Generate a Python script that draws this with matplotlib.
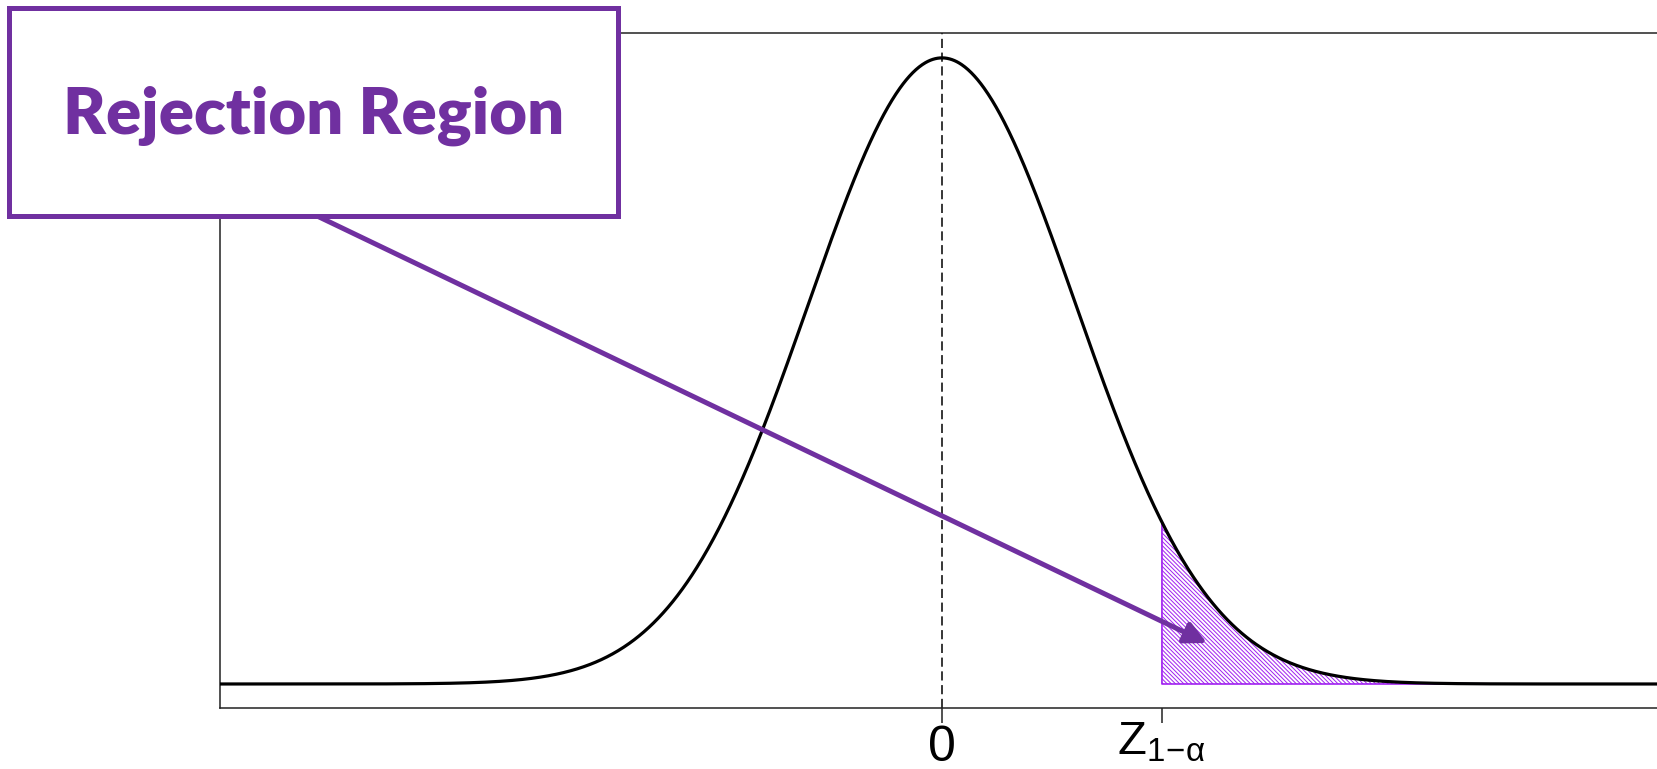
import numpy as np
import matplotlib
matplotlib.use("Agg")
import matplotlib.pyplot as plt
import matplotlib.transforms as mtransforms
from matplotlib.patches import Rectangle, FancyArrowPatch

# Standard normal with a one-sided upper rejection region
alpha = 0.05
z_crit = 1.645
x_range = (-6.0, 6.0)
shade_end = 4.75
tick_positions = [0.0, z_crit]
tick_labels = ["0", r"$\mathrm{Z}_{1\!-\!\alpha}$"]
callout_text = "Rejection Region"

PURPLE = "#7030A0"
HATCH = "#A020F0"

plt.rcParams["mathtext.fontset"] = "custom"
plt.rcParams["mathtext.rm"] = "Liberation Sans"
plt.rcParams["mathtext.it"] = "Liberation Sans"
plt.rcParams["mathtext.sf"] = "Liberation Sans"
plt.rcParams["hatch.linewidth"] = 0.7
plt.rcParams["hatch.color"] = HATCH

W, H = 1658, 769
fig = plt.figure(figsize=(W / 100, H / 100), dpi=100)

def fx(px):
    return px / W

def fy(py):
    return 1 - py / H

ax = fig.add_axes([fx(220), fy(708), fx(1664) - fx(220), fy(33) - fy(708)])

x = np.linspace(x_range[0], x_range[1], 2000)
pdf = np.exp(-x ** 2 / 2) / np.sqrt(2 * np.pi)

# hatched tail area
xs = np.linspace(z_crit, shade_end, 400)
ys = np.exp(-xs ** 2 / 2) / np.sqrt(2 * np.pi)
ax.fill_between(xs, 0, ys, facecolor="white", edgecolor=HATCH,
                hatch="\\" * 8, linewidth=1.2, zorder=2)

ax.plot(x, pdf, color="black", lw=2.3, zorder=3)
ax.axvline(0, color="black", lw=1.1, ls=(0, (6, 3)), zorder=1)

ax.set_xlim(-5.4, 5.4)
ax.set_ylim(-0.0153, 0.4148)

for s in ax.spines.values():
    s.set_linewidth(1.1)
    s.set_color("#222222")
ax.set_yticks([])
ax.set_xticks(tick_positions)
ax.set_xticklabels(tick_labels, family="Liberation Sans")
ax.tick_params(axis="x", length=11, width=1.1, pad=1, color="#222222")
labs = ax.get_xticklabels()
labs[0].set_fontsize(36)
labs[1].set_fontsize(34)
labs[1].set_transform(labs[1].get_transform() +
                      mtransforms.ScaledTranslation(0, 3 / 72, fig.dpi_scale_trans))

# callout box with arrow into the rejection region
box = Rectangle((fx(9), fy(216)), fx(618) - fx(9), fy(8) - fy(216),
                transform=fig.transFigure, facecolor="white",
                edgecolor=PURPLE, linewidth=3.6, zorder=10)
fig.add_artist(box)
fig.text(fx(314), fy(116), callout_text, color=PURPLE, fontsize=47,
         fontweight="heavy", family="Lato", ha="center", va="center",
         zorder=11)

arrow = FancyArrowPatch((fx(315), fy(215)), (fx(1207), fy(643)),
                        transform=fig.transFigure, arrowstyle="-|>",
                        mutation_scale=33, color=PURPLE, lw=3.6,
                        shrinkA=0, shrinkB=0, zorder=9)
fig.add_artist(arrow)

fig.savefig("out.png", dpi=100)
